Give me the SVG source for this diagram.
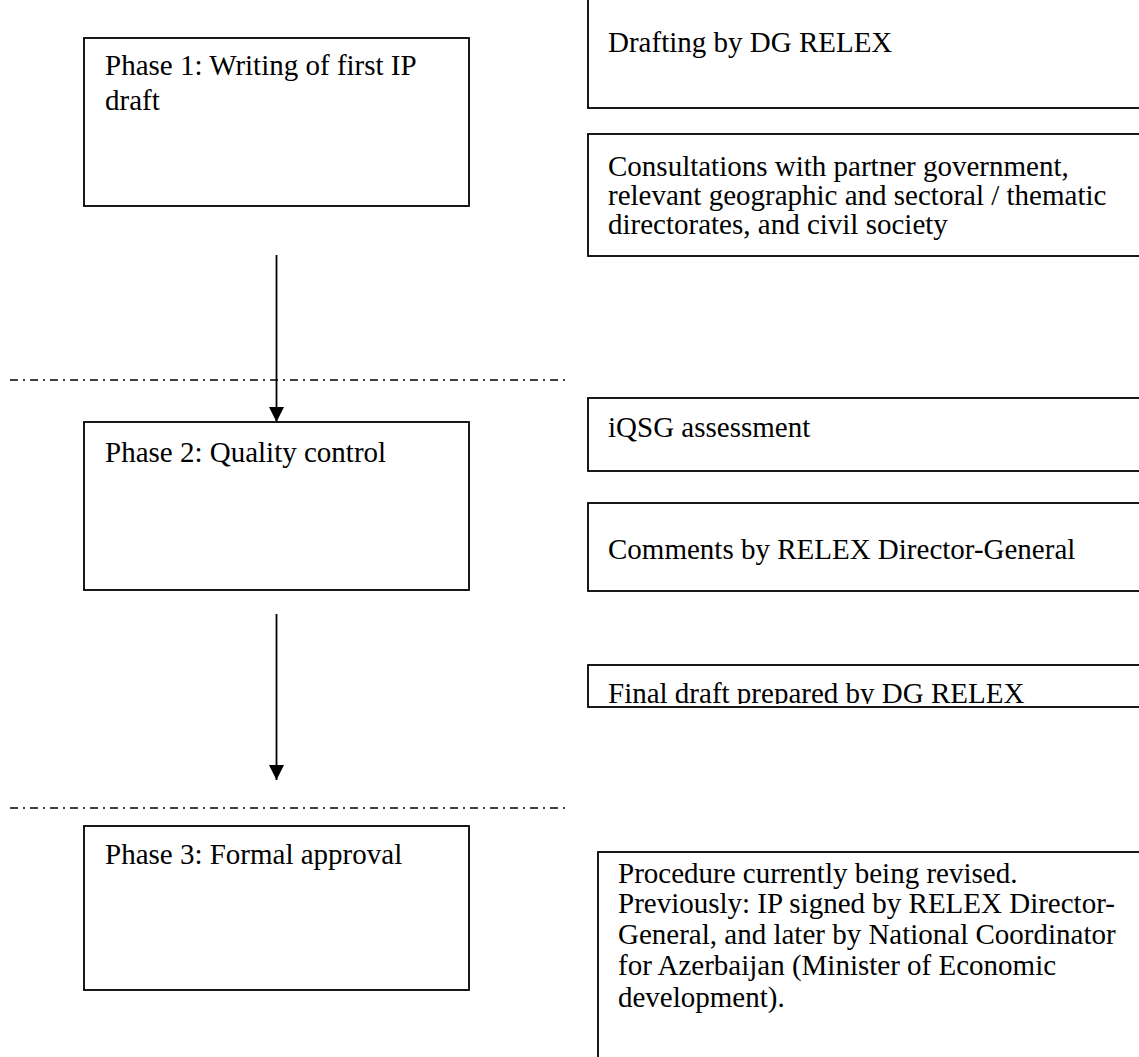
<svg xmlns="http://www.w3.org/2000/svg" width="1139" height="1057" viewBox="0 0 1139 1057">
  <style>
    .box { fill: #ffffff; stroke: #000000; stroke-width: 1.8; }
    .lbl { font-family: "Liberation Serif", "Times New Roman", serif; font-size: 29px; fill: #000000; }
    .flow { stroke: #000000; stroke-width: 1.8; fill: none; }
    .sep { stroke: #000000; stroke-width: 1.4; stroke-dasharray: 8 5 2 5; fill: none; }
  </style>
  <defs>
    <marker id="arrowhead" markerUnits="userSpaceOnUse" markerWidth="16" markerHeight="16" refX="15" refY="7.5" orient="auto">
      <path d="M0,0 L15,7.5 L0,15 Z" fill="#000000"/>
    </marker>
    <clipPath id="finalClip">
      <rect x="588" y="665" width="560" height="39"/>
    </clipPath>
  </defs>
  <rect width="1139" height="1057" fill="#ffffff"/>

  <!-- phase boxes -->
  <g id="phase1">
    <rect class="box" x="84" y="38" width="385" height="168"/>
    <text class="lbl" x="105" y="75">Phase 1: Writing of first IP</text>
    <text class="lbl" x="105" y="110">draft</text>
  </g>
  <g id="phase2">
    <rect class="box" x="84" y="422" width="385" height="168"/>
    <text class="lbl" x="105" y="462">Phase 2: Quality control</text>
  </g>
  <g id="phase3">
    <rect class="box" x="84" y="826" width="385" height="164"/>
    <text class="lbl" x="105" y="864">Phase 3: Formal approval</text>
  </g>

  <!-- step boxes on the right (they run past the page edge) -->
  <g id="drafting">
    <rect class="box" x="588" y="-2" width="560" height="110"/>
    <text class="lbl" x="608" y="52">Drafting by DG RELEX</text>
  </g>
  <g id="consultations">
    <rect class="box" x="588" y="134" width="560" height="122"/>
    <text class="lbl" x="608" y="176">Consultations with partner government,</text>
    <text class="lbl" x="608" y="205">relevant geographic and sectoral / thematic</text>
    <text class="lbl" x="608" y="234">directorates, and civil society</text>
  </g>
  <g id="iqsg">
    <rect class="box" x="588" y="398" width="560" height="73"/>
    <text class="lbl" x="608" y="437">iQSG assessment</text>
  </g>
  <g id="comments">
    <rect class="box" x="588" y="503" width="560" height="88"/>
    <text class="lbl" x="608" y="559">Comments by RELEX Director-General</text>
  </g>
  <g id="final-draft">
    <rect class="box" x="588" y="665" width="560" height="42"/>
    <text class="lbl" x="608" y="703" clip-path="url(#finalClip)">Final draft prepared by DG RELEX</text>
  </g>
  <g id="procedure">
    <rect class="box" x="598" y="852" width="560" height="220"/>
    <text class="lbl" x="618" y="883">Procedure currently being revised.</text>
    <text class="lbl" x="618" y="913">Previously: IP signed by RELEX Director-</text>
    <text class="lbl" x="618" y="944">General, and later by National Coordinator</text>
    <text class="lbl" x="618" y="975">for Azerbaijan (Minister of Economic</text>
    <text class="lbl" x="618" y="1007">development).</text>
  </g>

  <!-- phase separators and flow arrows -->
  <g id="connectors">
    <line class="sep" x1="10" y1="380" x2="566" y2="380"/>
    <line class="sep" x1="10" y1="808" x2="566" y2="808"/>
    <line class="flow" x1="276.5" y1="255" x2="276.5" y2="422" marker-end="url(#arrowhead)"/>
    <line class="flow" x1="276.5" y1="614" x2="276.5" y2="780" marker-end="url(#arrowhead)"/>
  </g>
</svg>
